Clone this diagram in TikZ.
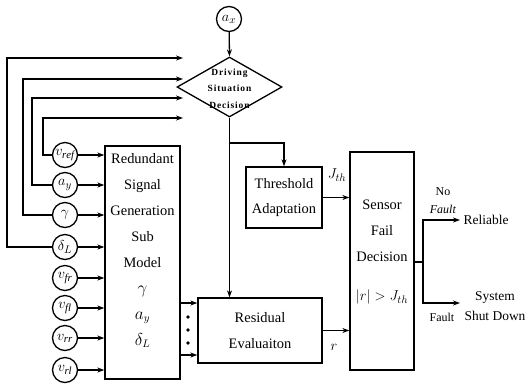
\documentclass[tikz,border=0pt]{standalone}
\usepackage{fontspec}
\setmainfont{Liberation Serif}
\newfontfamily\dsfont[LetterSpace=9]{Liberation Serif}
\usetikzlibrary{arrows.meta,shapes.geometric}
\begin{document}
\begin{tikzpicture}[x=1bp,y=-1bp,
  line width=1.3bp,
  arr/.style={-{Stealth[length=7bp,width=5bp]}},
  sig/.style={circle,draw,minimum size=25bp,inner sep=0pt,font=\fontsize{15.5}{15.5}\selectfont},
  blk/.style={draw,rectangle,inner sep=0pt},
  txt/.style={font=\fontsize{14.5}{26}\selectfont,align=center,inner sep=0pt},
  rtxt/.style={font=\fontsize{13.5}{20}\selectfont,align=center,inner sep=0pt}]
\useasboundingbox (0,0) rectangle (528,388);
% input signal circles
\node[sig] (ax) at (229,19) {$a_{x}$};
\node[sig] (vref) at (65,155) {$v_{\mathit{ref}}$};
\node[sig] (ay) at (65,185) {$a_{y}$};
\node[sig] (gam) at (65,215) {$\gamma$};
\node[sig] (dl) at (65,247) {$\delta_{L}$};
\node[sig] (vfr) at (65,278) {$v_{\mathit{fr}}$};
\node[sig] (vfl) at (65,308) {$v_{\mathit{fl}}$};
\node[sig] (vrr) at (65,338) {$v_{\mathit{rr}}$};
\node[sig] (vrl) at (65,370) {$v_{\mathit{rl}}$};
% diamond
\node[diamond,draw,minimum width=105bp,minimum height=60bp,inner sep=0pt] (dsd) at (229.5,87) {};
\node[font=\dsfont\bfseries\fontsize{9.5}{16.5}\selectfont,align=center,inner sep=0pt] (dsdt) at (229.5,88.5) {Driving\\Situation\\Decision};
% redundant signal generation box
\node[blk,minimum width=75bp,minimum height=233bp] (rsg) at (142.5,262.5) {};
\node[txt,anchor=north] (rsgt) at (142.5,153) {Redundant\\Signal\\Generation\\Sub\\Model\\{\fontsize{16}{16}\selectfont$\gamma$}\\{\fontsize{16}{16}\selectfont$a_{y}$}\\{\fontsize{16}{16}\selectfont$\delta_{L}$}};
% threshold
\node[blk,minimum width=76bp,minimum height=61bp,txt] (thr) at (284,197.5) {Threshold\\Adaptation};
% residual
\node[blk,minimum width=124bp,minimum height=65bp,txt] (res) at (260,330.5) {Residual\\Evaluaiton};
% sensor fail decision
\node[blk,minimum width=64bp,minimum height=218bp] (sfd) at (382,261) {};
\node[txt,anchor=north] (sfdt) at (382,199) {Sensor\\Fail\\Decision};
\node[txt,font=\fontsize{15}{15}\selectfont] (cond) at (382,297) {$|r| > J_{th}$};
% diamond inputs
\coordinate (d1) at (183,58);
\coordinate (d2) at (183,79);
\coordinate (d3) at (183,98);
\coordinate (d4) at (183,118);
\draw[arr] (dl.west) -- (7,247) |- (d1);
\draw[arr] (gam.west) -- (23,215) |- (d2);
\draw[arr] (ay.west) -- (32,185) |- (d3);
\draw[arr] (vref.west) -- (43,155) |- (d4);
\draw[arr] (ax) -- (dsd.north);
% circle to box arrows
\foreach \n in {vref,ay,gam,dl,vfr,vfl,vrr,vrl}
  \draw[arr] (\n.east) -- (\n.east -| rsg.west);
% to residual
\draw[arr] (rsg.east |- 0,303) -- (res.west |- 0,303);
\draw[arr] (rsg.east |- 0,355) -- (res.west |- 0,355);
\foreach \yy in {317,330,343} \fill (188,\yy) circle (1.8bp);
% diamond down
\coordinate (br) at (229,143);
\draw[arr] (dsd.south) -- (dsd.south |- res.north);
\draw[arr] (br) -| (thr.north);
% to sensor
\draw[arr] (thr.east) -- (thr.east -| sfd.west);
\draw[arr] (res.east) -- (res.east -| sfd.west);
\node[inner sep=0pt,font=\fontsize{15}{15}\selectfont] (jth) at (337,175) {$J_{th}$};
\node[inner sep=0pt,font=\fontsize{15}{15}\selectfont] (rl) at (334,347) {$r$};
% outputs
\coordinate (jn) at (423,262);
\coordinate (o1) at (460,220);
\coordinate (o2) at (460,303);
\draw (sfd.east |- jn) -- (jn);
\draw[arr] (jn) |- (o1);
\draw[arr] (jn) |- (o2);
\node[rtxt,font=\fontsize{12}{18}\selectfont] (nof) at (443,201) {No\\\textit{Fault}};
\node[rtxt,font=\fontsize{12}{12}\selectfont] (fl) at (442,317) {Fault};
\node[rtxt,anchor=west] (rel) at (463,220) {Reliable};
\node[rtxt] (ssd) at (495,306) {System\\Shut Down};
\end{tikzpicture}
\end{document}
